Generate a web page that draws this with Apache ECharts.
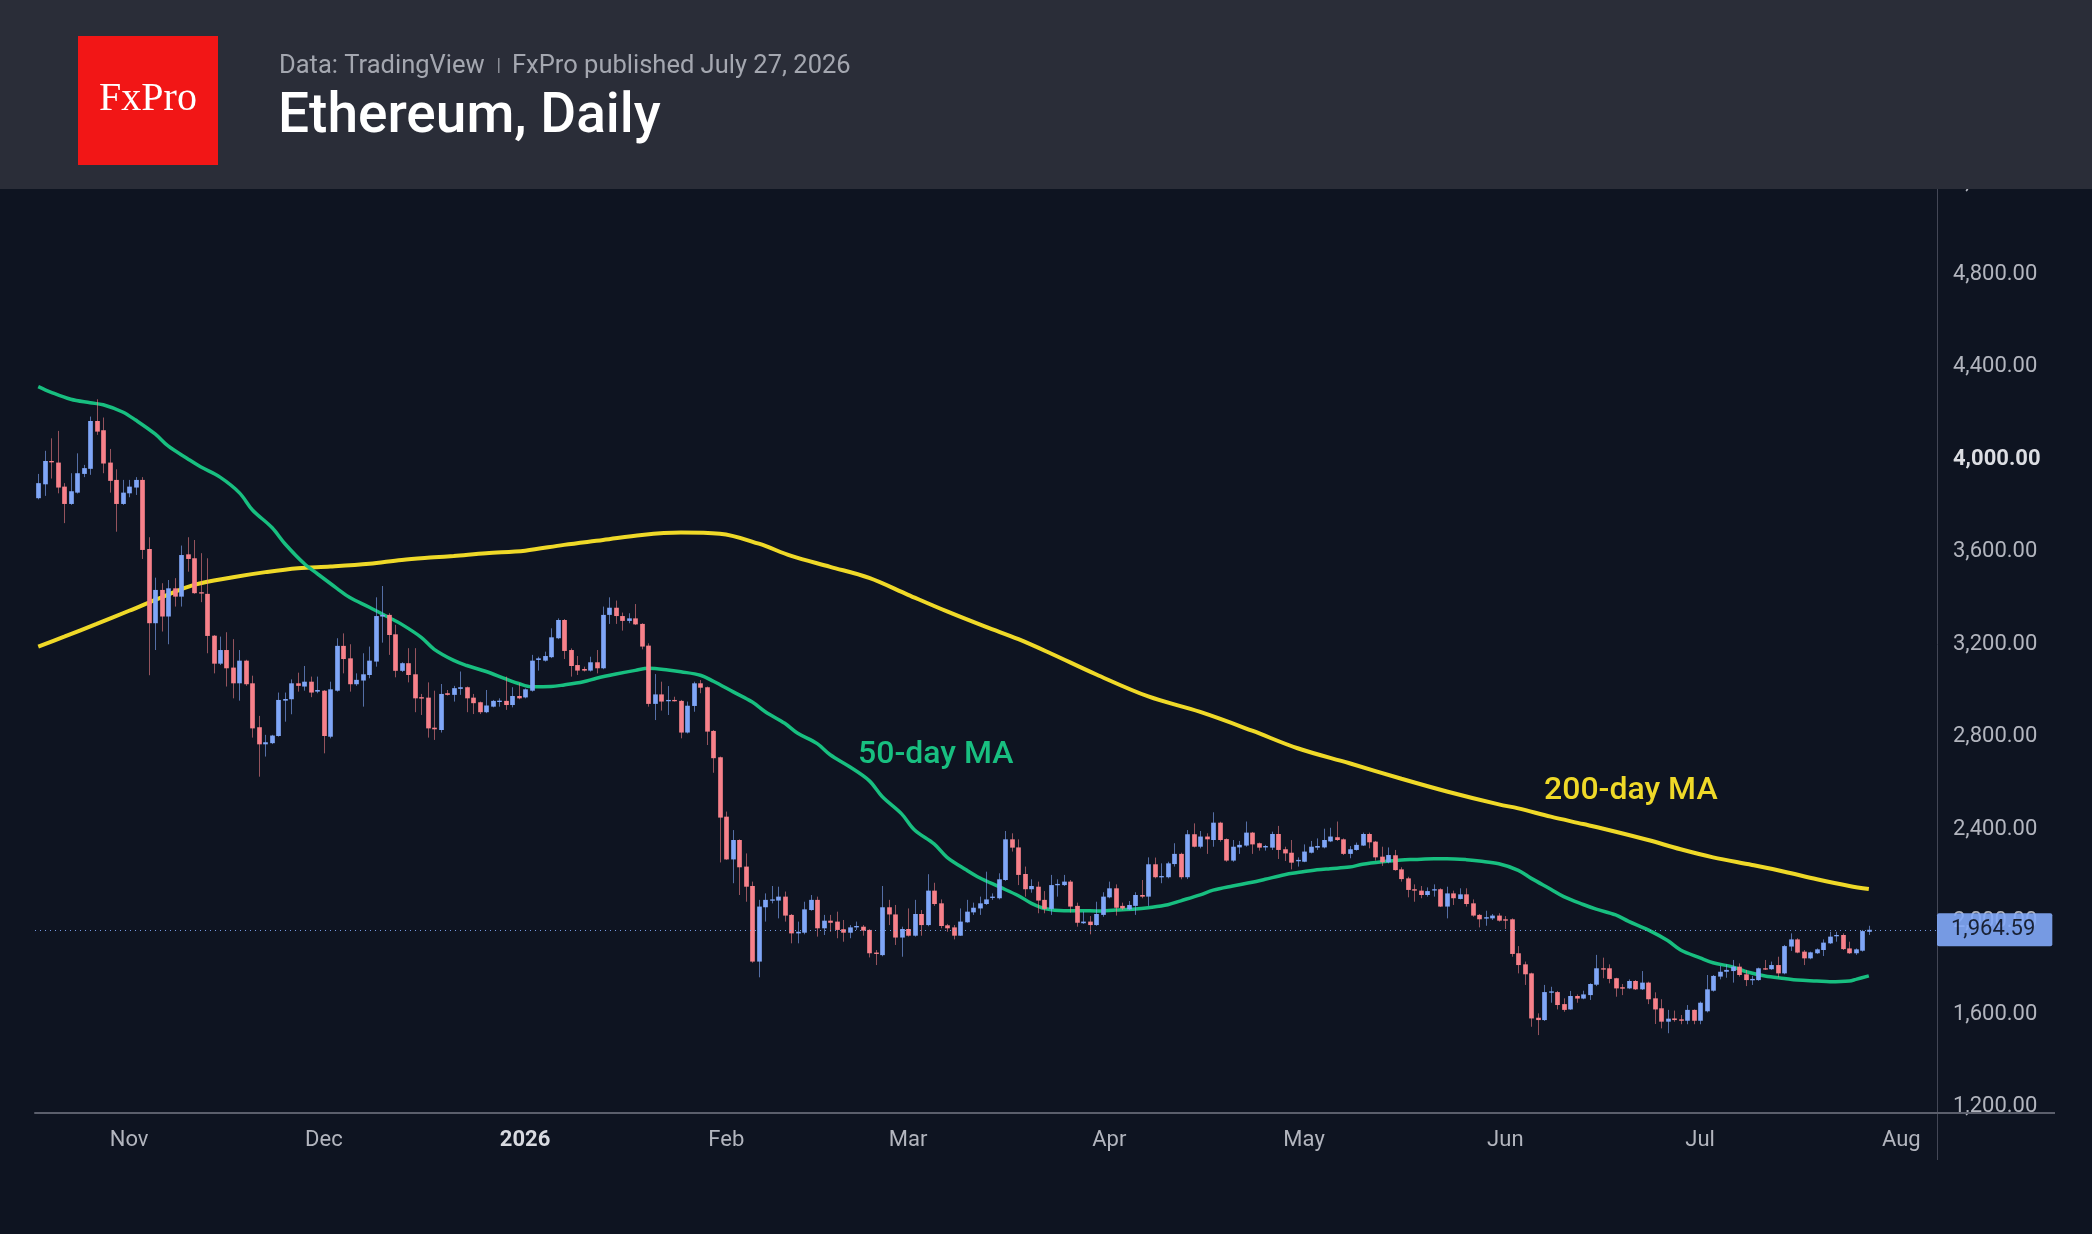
<!DOCTYPE html>
<html>
<head>
<meta charset="utf-8">
<title>Ethereum, Daily</title>
<script src="https://cdn.jsdelivr.net/npm/echarts@6/dist/echarts.min.js"></script>
<style>
  html, body { margin: 0; padding: 0; background: #0e1421; }
  #chart { width: 2092px; height: 1234px; }
</style>
</head>
<body>
<div id="chart"></div>
<script>
// ---- data ----
// daily candles from 2025-10-18 to 2026-07-27
var startDate = '2025-10-18';
var dayCount = 293; // axis runs a few empty days past the last candle

var opens = [3832,3892,3993,3986,3882,3807,3856,3937,3959,4166,
  4126,3986,3911,3807,3853,3878,3911,3612,3291,3435,
  3320,3442,3406,3589,3572,3425,3418,3237,3116,3175,
  3099,3031,3129,3031,2841,2767,2772,2803,2956,2962,
  3031,3017,3038,2995,2999,2800,2999,3193,3139,3027,
  3043,3067,3125,3320,3327,3243,3085,3118,3070,2971,
  2969,2839,2829,2988,2981,3007,3014,2969,2949,2906,
  2930,2950,2955,2937,2976,2970,2999,3132,3129,3144,
  3226,3305,3175,3110,3093,3086,3122,3096,3327,3358,
  3322,3301,3312,3288,3194,2942,2983,2955,2959,2955,
  2818,2933,3031,3014,2825,2711,2454,2269,2353,2238,
  2154,1827,2062,2091,2091,2108,2029,1949,1952,2050,
  2094,1971,2004,2000,1967,1952,1975,1978,1964,1866,
  1855,2062,2031,1931,1968,1939,2033,1985,2134,2079,
  1984,1975,1939,1997,2040,2057,2076,2104,2101,2180,
  2356,2321,2206,2140,2151,2094,2055,2158,2158,2173,
  2068,1993,2000,1985,2029,2105,2144,2068,2053,2068,
  2115,2108,2248,2193,2192,2249,2293,2192,2378,2324,
  2368,2353,2428,2357,2264,2321,2329,2385,2339,2321,
  2320,2379,2313,2298,2261,2259,2298,2320,2321,2347,
  2365,2356,2293,2310,2329,2379,2346,2281,2257,2287,
  2226,2187,2140,2134,2115,2135,2140,2065,2122,2098,
  2118,2079,2029,2013,2014,2026,2010,2010,1863,1815,
  1776,1584,1574,1694,1695,1643,1620,1678,1667,1682,
  1727,1798,1798,1755,1716,1711,1743,1707,1736,1668,
  1625,1567,1581,1577,1571,1618,1571,1612,1701,1762,
  1783,1786,1805,1772,1746,1747,1798,1794,1812,1776,
  1892,1923,1870,1841,1863,1877,1906,1938,1942,1884,
  1863,1874,1956];

var closes = [3897,3993,3987,3878,3807,3862,3940,3962,4166,4120,
  3982,3907,3807,3856,3882,3911,3608,3291,3435,3320,
  3442,3406,3586,3569,3421,3421,3236,3116,3175,3096,
  3031,3129,3027,2836,2767,2776,2805,2959,2963,3031,
  3020,3038,2991,3002,2803,3005,3193,3136,3027,3046,
  3070,3129,3322,3327,3240,3085,3118,3067,2966,2965,
  2836,2832,2985,2981,3010,3014,2966,2945,2906,2935,
  2955,2956,2937,2976,2966,3005,3129,3139,3149,3230,
  3305,3171,3106,3086,3086,3122,3096,3327,3358,3322,
  3301,3312,3286,3190,2942,2983,2952,2959,2955,2818,
  2934,3031,3012,2822,2707,2450,2269,2353,2235,2151,
  1827,2065,2094,2096,2108,2026,1949,1956,2053,2094,
  1971,2004,1995,1964,1952,1975,1981,1961,1863,1860,
  2062,2031,1931,1968,1939,2033,1985,2134,2076,1981,
  1971,1939,2000,2043,2060,2079,2096,2108,2183,2356,
  2320,2202,2140,2154,2091,2055,2158,2163,2173,2065,
  1995,2000,1985,2033,2108,2144,2060,2057,2072,2115,
  2108,2248,2192,2197,2252,2293,2192,2378,2324,2368,
  2356,2428,2353,2264,2324,2332,2385,2334,2320,2327,
  2379,2310,2295,2255,2267,2303,2324,2327,2353,2368,
  2353,2293,2313,2332,2379,2343,2278,2257,2288,2223,
  2184,2137,2134,2115,2132,2140,2065,2122,2101,2118,
  2076,2026,2010,2019,2026,2004,2004,1860,1812,1772,
  1581,1574,1695,1698,1639,1618,1678,1667,1685,1730,
  1798,1794,1752,1711,1710,1743,1707,1736,1664,1620,
  1567,1580,1574,1571,1618,1571,1649,1707,1765,1783,
  1791,1805,1769,1747,1752,1798,1794,1812,1776,1894,
  1923,1866,1841,1867,1880,1909,1935,1942,1881,1863,
  1880,1959,1964.59];

var lows = [3827,3842,3917,3853,3724,3803,3852,3923,3933,4106,
  3940,3856,3687,3803,3836,3846,3569,3066,3175,3255,
  3200,3363,3363,3514,3418,3382,3161,3074,3110,3017,
  2966,2956,3020,2796,2627,2714,2768,2800,2865,2897,
  2995,2999,2971,2988,2728,2793,2995,3074,2995,3020,
  2930,3053,3103,3207,3154,3057,3080,3035,2906,2894,
  2796,2786,2818,2978,2952,2981,2906,2898,2898,2902,
  2927,2930,2916,2927,2962,2966,2995,3086,3125,3140,
  3222,3136,3060,3067,3082,3082,3074,3092,3288,3288,
  3259,3291,3283,3178,2930,2872,2913,2894,2952,2793,
  2814,2908,2988,2764,2644,2256,2267,2166,2115,2086,
  1822,1759,2000,2079,2014,2000,1906,1906,1945,2047,
  1935,1942,1956,1928,1913,1928,1964,1939,1845,1812,
  1850,1985,1899,1848,1935,1935,1939,1980,2068,1971,
  1956,1923,1938,1995,2029,2029,2072,2094,2096,2176,
  2303,2158,2108,2125,2036,2036,2029,2108,2154,2039,
  1978,1990,1945,1982,2021,2101,2026,2050,2050,2029,
  2101,2068,2187,2166,2187,2238,2183,2184,2321,2317,
  2293,2324,2346,2259,2259,2293,2324,2293,2307,2307,
  2310,2271,2262,2226,2238,2257,2295,2310,2317,2344,
  2349,2288,2274,2307,2327,2317,2264,2241,2252,2220,
  2173,2105,2086,2101,2108,2108,2063,2014,2072,2096,
  2065,2021,1975,1982,2007,2000,1968,1848,1776,1726,
  1545,1509,1570,1649,1620,1610,1618,1649,1664,1661,
  1721,1755,1733,1675,1682,1708,1704,1704,1643,1557,
  1538,1517,1567,1556,1556,1556,1556,1607,1697,1750,
  1757,1736,1762,1721,1726,1744,1791,1791,1759,1772,
  1873,1863,1812,1837,1860,1851,1903,1913,1877,1860,
  1856,1870,1942];

var highs = [3937,4037,4091,4123,3897,3940,4026,3976,4185,4260,
  4181,4045,3957,3911,3911,3923,3923,3663,3488,3464,
  3478,3486,3627,3663,3651,3594,3572,3240,3233,3252,
  3222,3175,3133,3064,2890,2808,2808,2991,2991,3048,
  3077,3106,3060,3060,3002,3038,3226,3247,3200,3074,
  3161,3190,3403,3452,3334,3284,3122,3183,3183,2985,
  3035,2999,3028,3002,3020,3082,3017,2985,2952,3002,
  2959,2966,3060,3014,3031,3009,3154,3146,3168,3269,
  3312,3309,3182,3149,3103,3146,3175,3363,3403,3389,
  3337,3334,3374,3291,3204,3071,3038,3019,2973,2959,
  2952,3038,3045,3017,2829,2714,2476,2396,2356,2295,
  2173,2094,2122,2154,2151,2130,2033,2000,2086,2115,
  2108,2029,2029,2043,2007,1985,2000,1985,1967,1877,
  2154,2094,2072,1978,2057,2094,2050,2205,2168,2096,
  1990,1985,2057,2094,2082,2108,2216,2122,2209,2392,
  2382,2356,2238,2183,2173,2132,2202,2183,2202,2180,
  2082,2043,2024,2086,2127,2173,2161,2082,2089,2127,
  2180,2278,2277,2252,2259,2339,2298,2396,2425,2392,
  2382,2473,2432,2360,2353,2349,2433,2388,2342,2332,
  2389,2414,2324,2353,2278,2334,2349,2360,2402,2406,
  2433,2360,2327,2342,2385,2385,2349,2324,2321,2310,
  2235,2194,2161,2154,2148,2161,2144,2151,2134,2144,
  2144,2096,2033,2047,2033,2036,2024,2014,1894,1827,
  1779,1603,1726,1718,1700,1668,1700,1685,1701,1733,
  1856,1844,1815,1757,1730,1750,1747,1786,1740,1694,
  1664,1618,1615,1596,1639,1620,1654,1769,1769,1808,
  1815,1834,1819,1791,1765,1801,1834,1827,1848,1899,
  1949,1928,1877,1870,1884,1923,1956,1956,1949,1913,
  1884,1964,1982];

// moving averages, read at sample days (day index from startDate)
var ma50Days = [0,2,5,8,10,13,15,18,20,23,25,28,31,33,36,38,41,43,46,48,51,54,56,59,61,64,66,69,72,74,
  76,79,81,84,86,89,92,94,97,99,102,104,107,110,112,115,117,120,122,125,128,130,133,135,138,140,143,145,148,
  151,153,155,158,161,163,166,169,171,174,176,179,181,184,187,189,192,194,197,199,202,204,207,210,212,215,217,
  220,222,225,228,230,233,235,238,240,243,245,248,251,253,256,258,261,263,266,269,271,274,276,279,280,282];
var ma50Vals = [4315,4290,4260,4245,4236,4205,4170,4110,4058,4003,3968,3923,3855,3781,3705,3635,3548,3505,3442,3402,
  3360,3316,3286,3230,3178,3130,3108,3082,3050,3030,
  3016,3017,3024,3038,3053,3071,3087,3096,3089,3081,3066,3040,2995,2950,2908,2858,2815,2770,2722,2670,2610,2541,
  2466,2396,2336,2278,2223,2190,2151,
  2112,2079,2057,2047,2047,2046,2050,2054,2060,2073,2090,2116,2136,2154,2170,2183,2203,2212,2224,2229,2236,2248,
  2259,2267,2269,2272,2272,
  2268,2262,2250,2222,2187,2140,2108,2074,2054,2029,2001,1964,1918,1877,1843,1822,1804,1784,1765,1754,1747,1743,
  1740,1743,1750,1765];

var ma200Days = [0,4,9,14,19,24,30,35,40,45,51,56,61,64,69,75,81,87,93,99,
  105,111,116,122,128,134,140,146,151,156,163,171,179,187,194,202,210,217,225,228,233,238,243,248,253,258,264,
  269,274,279,282];
var ma200Vals = [3190,3233,3288,3345,3403,3457,3490,3512,3529,3536,3548,3565,3576,3582,3594,3605,3630,3651,3673,3683,
  3678,3635,3582,3535,3487,3414,3342,3275,3222,3160,3069,2974,2907,2826,2750,2685,2618,2563,2507,2490,2454,2422,
  2389,2353,2313,2278,2245,2216,2183,2154,2141];

// axis ticks
var yTicks = { min: 1200, max: 5200, step: 400 };
var monthLabels = {
  '2025-11-01': 'Nov', '2025-12-01': 'Dec', '2026-01-01': '2026', '2026-02-01': 'Feb',
  '2026-03-01': 'Mar', '2026-04-01': 'Apr', '2026-05-01': 'May', '2026-06-01': 'Jun',
  '2026-07-01': 'Jul', '2026-08-01': 'Aug'
};

// ---- colours ----
var UP = '#7fa6f7', DOWN = '#f7818a';
var UP_WICK = 'rgba(127,166,247,0.62)', DOWN_WICK = 'rgba(247,129,138,0.58)';
var GREEN = '#18bf80', YELLOW = '#efd928';
var FONT = 'Roboto, "Noto Sans", sans-serif';

// build the date categories
var dates = [];
(function () {
  var t0 = Date.parse(startDate + 'T00:00:00Z');
  for (var k = 0; k < dayCount; k++) {
    dates.push(new Date(t0 + k * 86400000).toISOString().slice(0, 10));
  }
})();

var candleData = [];
for (var i = 0; i < closes.length; i++) {
  candleData.push([i, opens[i], closes[i], lows[i], highs[i]]);
}
var ma50Data = ma50Days.map(function (d, k) { return [d, ma50Vals[k]]; });
var ma200Data = ma200Days.map(function (d, k) { return [d, ma200Vals[k]]; });
var lastClose = closes[closes.length - 1];

function fmtPrice(v) {
  return Number(v).toFixed(2).replace(/\B(?=(\d{3})+(?!\d))/g, ',');
}

// candle = thin wick + solid body
function renderCandle(params, api) {
  var idx = api.value(0);
  var o = api.value(1), c = api.value(2), l = api.value(3), h = api.value(4);
  var po = api.coord([idx, o]), pc = api.coord([idx, c]);
  var pl = api.coord([idx, l]), ph = api.coord([idx, h]);
  var bw = api.size([1, 0])[0] * 0.72;
  var up = c >= o;
  var x = Math.round(po[0]) + 0.5;
  var top = Math.min(po[1], pc[1]);
  var bh = Math.max(Math.abs(po[1] - pc[1]), 1.3);
  return {
    type: 'group',
    children: [
      { type: 'line', shape: { x1: x, y1: ph[1], x2: x, y2: pl[1] },
        style: { stroke: up ? UP_WICK : DOWN_WICK, lineWidth: 1 } },
      { type: 'rect', shape: { x: x - bw / 2, y: top, width: bw, height: bh },
        style: { fill: up ? UP : DOWN } }
    ]
  };
}

var chart = echarts.init(document.getElementById('chart'), null, { renderer: 'canvas' });

var option = {
  backgroundColor: '#0e1421',
  animation: false,
  grid: { left: 35, right: 155, top: 182, bottom: 127.5 },
  xAxis: {
    type: 'category',
    data: dates,
    boundaryGap: true,
    offset: 6.5,
    axisLine: { show: true, lineStyle: { color: '#5b5f6c', width: 2 } },
    axisTick: { show: false },
    splitLine: { show: false },
    axisLabel: {
      interval: function (index, value) { return !!monthLabels[value]; },
      formatter: function (value) {
        var s = monthLabels[value] || '';
        return s === '2026' ? '{y|2026}' : s;
      },
      color: '#b2b5be',
      fontFamily: FONT,
      fontSize: 22,
      margin: 16,
      rich: { y: { color: '#d8dae0', fontWeight: 'bold', fontSize: 22, fontFamily: FONT } }
    }
  },
  yAxis: {
    type: 'value',
    position: 'right',
    min: yTicks.min,
    max: yTicks.max,
    interval: yTicks.step,
    scale: true,
    axisLine: { show: true, lineStyle: { color: '#434756', width: 1 } },
    axisTick: { show: false },
    splitLine: { show: false },
    axisLabel: {
      margin: 16,
      color: '#b2b5be',
      fontFamily: FONT,
      fontSize: 22,
      formatter: function (v) {
        return v === 4000 ? '{b|' + fmtPrice(v) + '}' : fmtPrice(v);
      },
      rich: { b: { color: '#dcdee3', fontWeight: 'bold', fontSize: 22, fontFamily: FONT } }
    }
  },
  series: [
    {
      name: '200-day MA',
      type: 'line',
      data: ma200Data,
      smooth: 0.35,
      showSymbol: false,
      lineStyle: { color: YELLOW, width: 4 },
      z: 2
    },
    {
      name: '50-day MA',
      type: 'line',
      data: ma50Data,
      smooth: 0.35,
      showSymbol: false,
      lineStyle: { color: GREEN, width: 3.5 },
      z: 2,
      // last price line with its tag on the price scale
      markLine: {
        silent: true,
        symbol: 'none',
        data: [{ yAxis: lastClose }],
        lineStyle: { color: '#7fa6f7', width: 1, type: [1, 4], opacity: 0.9 },
        label: {
          position: 'end',
          distance: 0,
          formatter: function () { return fmtPrice(lastClose); },
          backgroundColor: '#82a8f8',
          color: '#0e1421',
          fontFamily: FONT,
          fontSize: 22,
          padding: [6, 17, 5, 14],
          borderRadius: 2
        }
      }
    },
    {
      name: 'ETH',
      type: 'custom',
      renderItem: renderCandle,
      data: candleData,
      encode: { x: 0, y: [1, 2, 3, 4] },
      z: 3
    }
  ],
  graphic: [
    // axis line extensions below / right of the plot
    { type: 'line', z: 10, shape: { x1: 1937.5, y1: 1106, x2: 1937.5, y2: 1160 },
      style: { stroke: '#434756', lineWidth: 1 } },
    { type: 'line', z: 10, shape: { x1: 1937, y1: 1113, x2: 2055, y2: 1113 },
      style: { stroke: '#5b5f6c', lineWidth: 2 } },
    // MA annotations
    { type: 'text', z: 10, x: 858, y: 755,
      style: { text: '50-day MA', fill: GREEN, font: '500 32px ' + FONT, verticalAlign: 'middle' } },
    { type: 'text', z: 10, x: 1544, y: 791,
      style: { text: '200-day MA', fill: YELLOW, font: '500 32px ' + FONT, verticalAlign: 'middle' } },
    // header band
    { type: 'rect', z: 100, shape: { x: 0, y: 0, width: 2092, height: 189 }, style: { fill: '#2a2d38' } },
    { type: 'rect', z: 101, shape: { x: 78, y: 36, width: 140, height: 129 }, style: { fill: '#f21616' } },
    { type: 'text', z: 102, x: 148, y: 99,
      style: { text: 'FxPro', fill: '#ffffff', font: '40px "Liberation Serif", "DejaVu Serif", serif',
        align: 'center', verticalAlign: 'middle' } },
    { type: 'text', z: 102, x: 279, y: 67,
      style: { text: 'Data: TradingView', fill: '#a4a7b0', font: '25.5px ' + FONT, verticalAlign: 'middle' } },
    { type: 'rect', z: 102, shape: { x: 498, y: 58, width: 1.5, height: 15 }, style: { fill: '#8a8d96' } },
    { type: 'text', z: 102, x: 512, y: 67,
      style: { text: 'FxPro published July 27, 2026', fill: '#a4a7b0', font: '25.5px ' + FONT, verticalAlign: 'middle' } },
    { type: 'text', z: 102, x: 278, y: 118,
      style: { text: 'Ethereum, Daily', fill: '#ffffff', font: '500 55px ' + FONT, verticalAlign: 'middle' } }
  ]
};

chart.setOption(option);

window.onresize = function () {
  chart.resize();
};
</script>
</body>
</html>
